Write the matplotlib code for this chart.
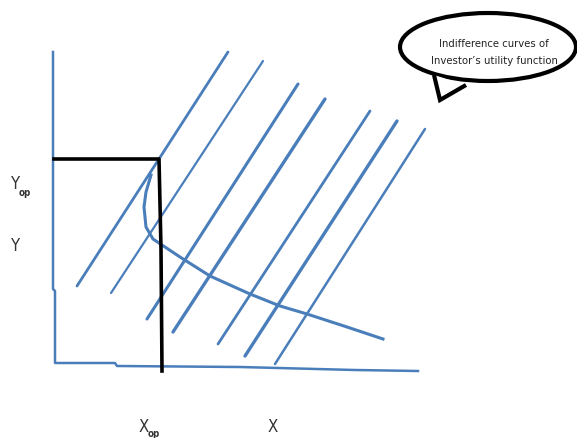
import numpy as np
import matplotlib.pyplot as plt
from matplotlib.patches import Ellipse, Polygon

# sketch drawn in pixel space of the original picture (x right, y down)
axis_x = [53, 53, 55, 55, 115, 117, 240, 355, 418]
axis_y = [53, 290, 292, 364, 364, 367, 368, 371, 372]

box_x = [54, 159, 161, 162]
box_y = [160, 160, 250, 372]

# indifference lines: bottom point -> top point, with a width
ind_x0 = [77, 111, 147, 173, 218, 245, 275]
ind_y0 = [287, 294, 320, 333, 345, 357, 365]
ind_x1 = [228, 263, 298, 325, 370, 397, 425]
ind_y1 = [53, 62, 85, 100, 112, 122, 130]
ind_lw = [2.0, 1.6, 2.2, 2.4, 2.0, 2.4, 1.8]

# frontier curve
curve_x = [151, 146, 144, 146, 153, 180, 210, 250, 280, 307, 347, 383]
curve_y = [176, 193, 208, 228, 240, 258, 277, 295, 307, 315, 328, 340]

blue = "#4a7ebb"

fig = plt.figure(figsize=(5.77, 4.39), dpi=100)
ax = fig.add_axes([0, 0, 1, 1])
ax.set_xlim(0, 577)
ax.set_ylim(439, 0)
ax.axis("off")

ax.plot(axis_x, axis_y, color=blue, lw=1.8)

for i in range(len(ind_x0)):
    ax.plot([ind_x0[i], ind_x1[i]], [ind_y0[i], ind_y1[i]], color=blue,
            lw=ind_lw[i], solid_capstyle="round")

ax.plot(curve_x, curve_y, color=blue, lw=2.2)

ax.plot(box_x, box_y, color="black", lw=2.6)

# speech bubble
ell = Ellipse((488, 48), 176, 68, facecolor="white", edgecolor="black", lw=3, zorder=5)
ax.add_patch(ell)
tail = Polygon([[434, 76], [440, 101], [466, 86]], closed=False, facecolor="white",
               edgecolor="black", lw=3, zorder=6)
ax.add_patch(tail)
ax.text(494, 44, "Indifference curves of", ha="center", va="center", fontsize=7.3,
        color="#222222", zorder=7)
ax.text(494, 61, "Investor\u2019s utility function", ha="center", va="center", fontsize=7.3,
        color="#222222", zorder=7)

lab = dict(family="DejaVu Sans", stretch="condensed", color="#333333")
ax.text(11, 184, "Y", fontsize=12, ha="left", va="center", **lab)
ax.text(19, 193, "op", fontsize=7, ha="left", va="center", weight="bold", **lab)
ax.text(11, 246, "Y", fontsize=12, ha="left", va="center", **lab)
ax.text(139, 427, "X", fontsize=12, ha="left", va="center", **lab)
ax.text(148, 434, "op", fontsize=7, ha="left", va="center", weight="bold", **lab)
ax.text(268, 427, "X", fontsize=12, ha="left", va="center", **lab)

fig.savefig("out.png", dpi=100)
